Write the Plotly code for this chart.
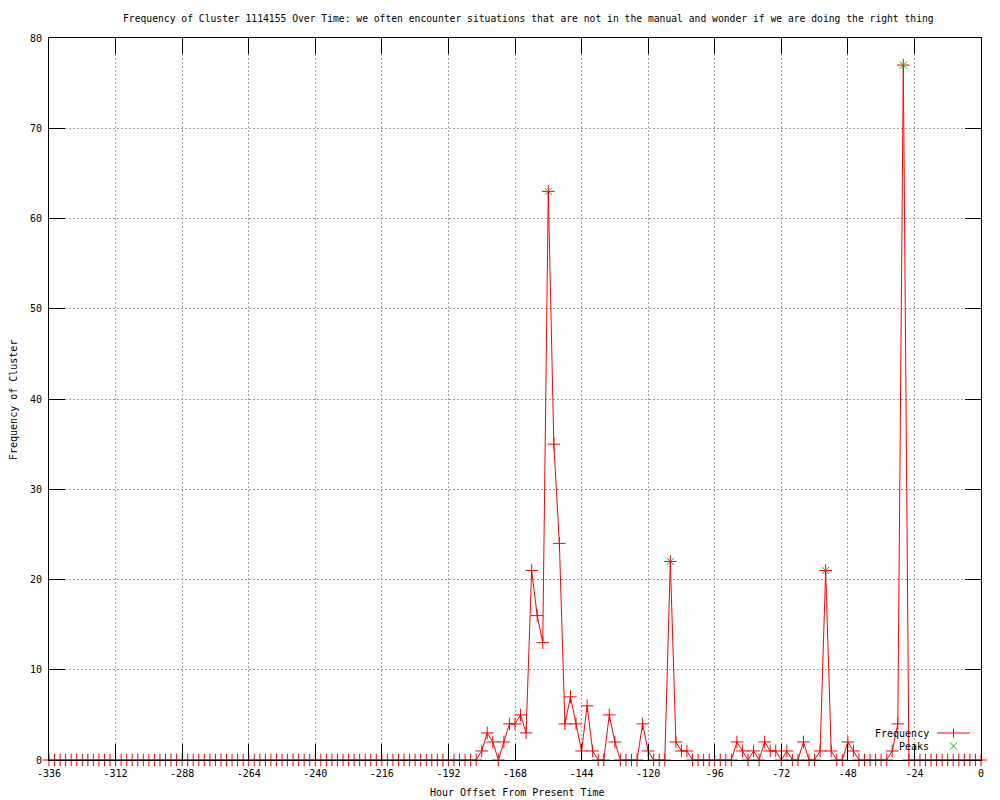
import plotly.graph_objects as go

# ---- data ----
hours = list(range(-336, 1, 2))
frequency = [
    0, 0, 0, 0, 0, 0, 0, 0, 0, 0,  # -336 .. -318
    0, 0, 0, 0, 0, 0, 0, 0, 0, 0,  # -316 .. -298
    0, 0, 0, 0, 0, 0, 0, 0, 0, 0,  # -296 .. -278
    0, 0, 0, 0, 0, 0, 0, 0, 0, 0,  # -276 .. -258
    0, 0, 0, 0, 0, 0, 0, 0, 0, 0,  # -256 .. -238
    0, 0, 0, 0, 0, 0, 0, 0, 0, 0,  # -236 .. -218
    0, 0, 0, 0, 0, 0, 0, 0, 0, 0,  # -216 .. -198
    0, 0, 0, 0, 0, 0, 0, 0,        # -196 .. -182
    1, 3, 2, 0, 2, 4, 4, 5, 3, 21,  # -180 .. -162
    16, 13, 63, 35, 24, 4, 7, 4, 1, 6,  # -160 .. -142
    1, 0, 0, 5, 2, 0, 0, 0, 0, 4,  # -140 .. -122
    1, 0, 0, 0, 22, 2, 1, 1, 0, 0,  # -120 .. -102
    0, 0, 0, 0, 0, 0, 2, 1, 0, 1,  # -100 .. -82
    0, 2, 1, 1, 0, 1, 0, 0, 2, 0,  # -80 .. -62
    0, 1, 21, 1, 0, 0, 2, 1, 0, 0,  # -60 .. -42
    0, 0, 0, 0, 1, 4, 77, 0,        # -40 .. -26
    0, 0, 0, 0, 0, 0, 0, 0, 0, 0, 0, 0, 0,  # -24 .. 0
]
peak_hours = [-156, -112, -56, -28]
peak_values = [63, 22, 21, 77]

x_tick_vals = [-336, -312, -288, -264, -240, -216, -192, -168, -144, -120, -96, -72, -48, -24, 0]
x_tick_text = ["-336", "-312", "-288", "-264", "-240", "-216", "-192", "-168", "-144",
               "-120", "-96", "-72", "-48", "-24", "0"]
y_tick_vals = [0, 10, 20, 30, 40, 50, 60, 70, 80]

title_text = ("Frequency of Cluster 1114155 Over Time: we often encounter situations "
              "that are not in the manual and wonder if we are doing the right thing")
x_title = "Hour Offset From Present Time"
y_title = "Frequency of Cluster"

RED = "#ff0000"
GREEN = "#00c000"
FONT = "DejaVu Sans Mono"

# ---- layout geometry (pixels) ----
W, H = 1000, 800
L, R, T, B = 49, 19, 38, 40
PW, PH = W - L - R, H - T - B


def px(xp):
    return (xp - L) / PW


def py(yp):
    return (H - B - yp) / PH


fig = go.Figure()
fig.add_trace(go.Scatter(
    x=hours, y=frequency, mode="lines+markers", name="Frequency",
    line=dict(color=RED, width=1),
    marker=dict(symbol="cross-thin", size=9, line=dict(color=RED, width=1), color=RED),
    cliponaxis=False, showlegend=False,
))
fig.add_trace(go.Scatter(
    x=peak_hours, y=peak_values, mode="markers", name="Peaks",
    marker=dict(symbol="x-thin", size=7, line=dict(color=GREEN, width=1), color=GREEN),
    cliponaxis=False, showlegend=False,
))

axis_common = dict(
    showline=True, linecolor="black", linewidth=1, mirror="ticks",
    ticks="inside", ticklen=16, tickcolor="black", tickwidth=1,
    showgrid=True, gridcolor="#a0a0a0", gridwidth=1, griddash="2px,2px",
    zeroline=False, tickfont=dict(family=FONT, size=10, color="black"),
    ticklabelstandoff=4,
)

fig.update_layout(
    width=W, height=H,
    margin=dict(l=L, r=R, t=T, b=B),
    paper_bgcolor="white", plot_bgcolor="white",
    font=dict(family=FONT, size=10, color="black"),
    showlegend=False,
    xaxis=dict(range=[-336, 0], tickmode="array", tickvals=x_tick_vals, ticktext=x_tick_text,
               **axis_common),
    yaxis=dict(range=[0, 80], tickmode="array", tickvals=y_tick_vals, **axis_common),
)

annotations = [
    dict(text=title_text, xref="paper", yref="paper", x=px(528.5), y=py(18),
         showarrow=False, xanchor="center", yanchor="middle", font=dict(family=FONT, size=9.7)),
    dict(text=x_title, xref="paper", yref="paper", x=px(517), y=py(793),
         showarrow=False, xanchor="center", yanchor="middle", font=dict(family=FONT, size=10)),
    dict(text=y_title, xref="paper", yref="paper", x=px(13), y=py(400), textangle=-90,
         showarrow=False, xanchor="center", yanchor="middle", font=dict(family=FONT, size=10)),
    dict(text="Frequency", xref="paper", yref="paper", x=px(931), y=py(733),
         showarrow=False, xanchor="right", yanchor="middle", font=dict(family=FONT, size=10)),
    dict(text="Peaks", xref="paper", yref="paper", x=px(931), y=py(746),
         showarrow=False, xanchor="right", yanchor="middle", font=dict(family=FONT, size=10)),
]
fig.update_layout(annotations=annotations)

shapes = [
    # legend sample: Frequency line
    dict(type="line", xref="paper", yref="paper", x0=px(937), x1=px(970), y0=py(733), y1=py(733),
         line=dict(color=RED, width=1)),
    # legend "+" marker
    dict(type="line", xref="paper", yref="paper", xsizemode="pixel", ysizemode="pixel",
         xanchor=px(953.5), yanchor=py(733), x0=0, x1=0, y0=-4.5, y1=4.5, line=dict(color=RED, width=1)),
    # legend "x" marker for peaks
    dict(type="line", xref="paper", yref="paper", xsizemode="pixel", ysizemode="pixel",
         xanchor=px(953.5), yanchor=py(746), x0=-3.5, x1=3.5, y0=-3.5, y1=3.5, line=dict(color=GREEN, width=1)),
    dict(type="line", xref="paper", yref="paper", xsizemode="pixel", ysizemode="pixel",
         xanchor=px(953.5), yanchor=py(746), x0=-3.5, x1=3.5, y0=3.5, y1=-3.5, line=dict(color=GREEN, width=1)),
]
fig.update_layout(shapes=shapes)

fig.write_html("out.html", config={"displayModeBar": False},
               post_script="document.body.style.margin='0';document.body.style.overflow='hidden';")
